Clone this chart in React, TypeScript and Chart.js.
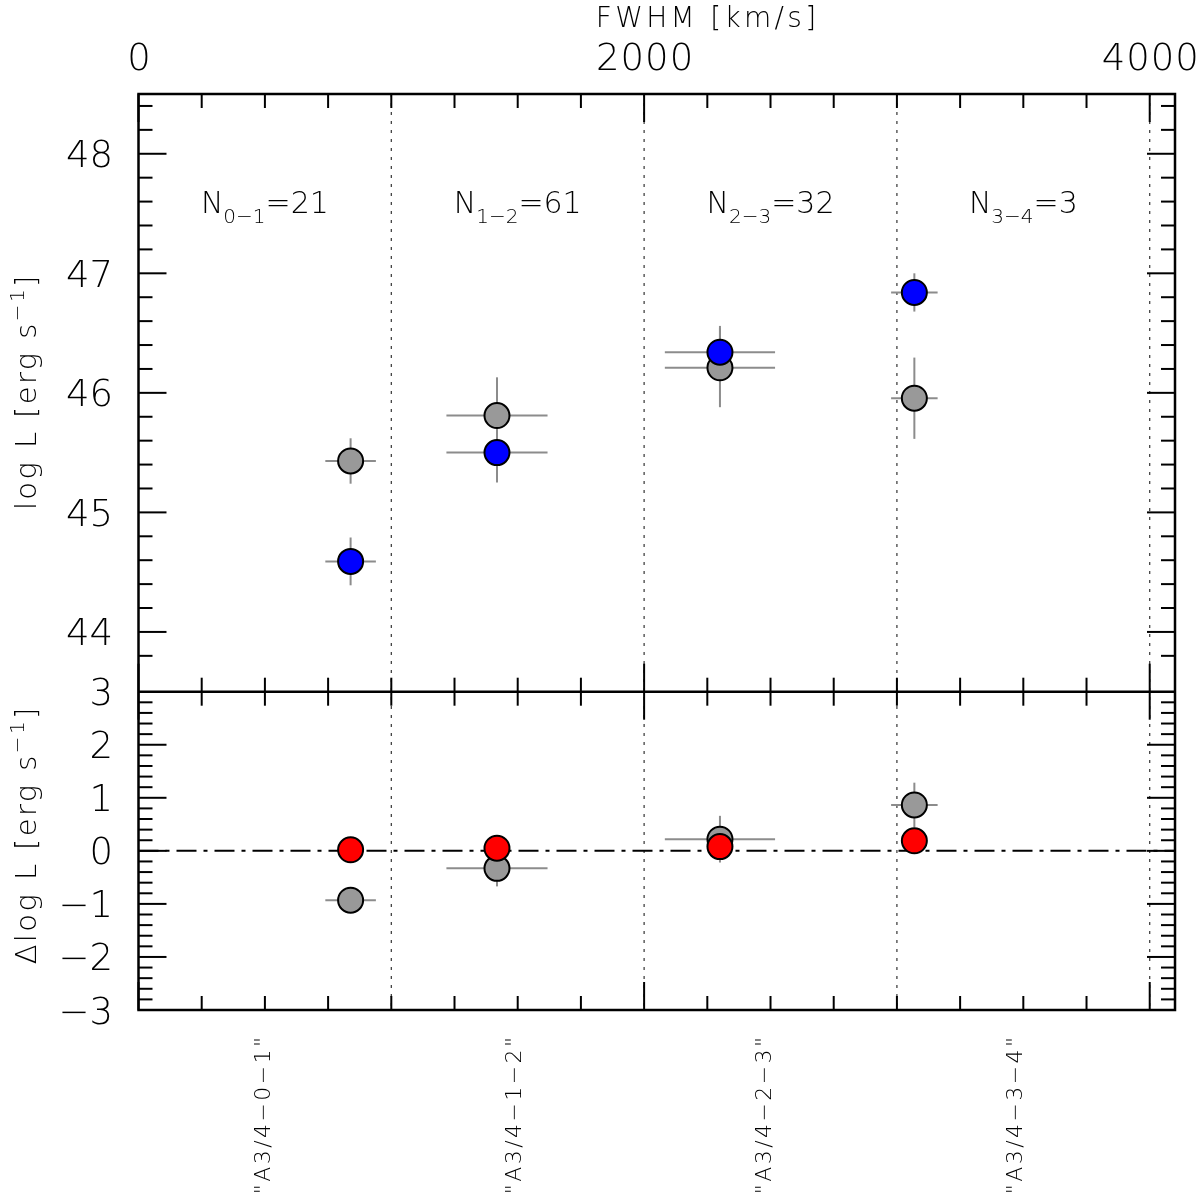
import { useEffect, useRef } from "react";
import Chart from "chart.js/auto";

// FWHM of each bin point (km/s) and its half-width
const fwhm = [839, 1418, 2300, 3069];
const fwhmErr = [100, 200, 218, 92];

// upper panel: log L
const logLGray = [45.43, 45.81, 46.21, 45.955];
const logLGrayErr = [0.19, 0.32, 0.33, 0.34];
const logLBlue = [44.59, 45.5, 46.34, 46.84];
const logLBlueErr = [0.2, 0.25, 0.22, 0.16];

// lower panel: delta log L
const dLogLGray = [-0.93, -0.33, 0.22, 0.865];
const dLogLGrayErr = [0.15, 0.34, 0.44, 0.42];
const dLogLRed = [0.02, 0.05, 0.08, 0.19];

// bins
const binEdges = [1000, 2000, 3000, 4000];
const binCentres = [500, 1500, 2500, 3500];
const binNames = ["0−1", "1−2", "2−3", "3−4"];
const binCounts = [21, 61, 32, 3];
const binLabels = ['"A3/4−0−1"', '"A3/4−1−2"', '"A3/4−2−3"', '"A3/4−3−4"'];
const binLabelPos = [490, 1480, 2470, 3465];

// tick labels
const fwhmTicks = [0, 2000, 4000];
const logLTicks = [44, 45, 46, 47, 48];
const dLogLTicks = [-3, -2, -1, 0, 1, 2, 3];

const FONT = '"DejaVu Sans", sans-serif';

type Run = { t: string; s?: "sub" | "sup" };

function drawRuns(
  ctx: CanvasRenderingContext2D,
  runs: Run[],
  x: number,
  y: number,
  size: number,
  align: "left" | "center" | "right",
  spacing = 0,
  angle = 0
) {
  const small = Math.round(size * 0.68);
  const sizes = runs.map((r) => (r.s ? small : size));
  ctx.save();
  ctx.translate(x, y);
  ctx.rotate(angle);
  (ctx as any).letterSpacing = spacing + "px";
  ctx.textBaseline = "alphabetic";
  ctx.textAlign = "left";
  ctx.fillStyle = "#000";
  const widths = runs.map((r, i) => {
    ctx.font = `300 ${sizes[i]}px ${FONT}`;
    return ctx.measureText(r.t).width;
  });
  const total = widths.reduce((a, b) => a + b, 0) - spacing;
  let cx = align === "left" ? 0 : align === "center" ? -total / 2 : -total;
  runs.forEach((r, i) => {
    ctx.font = `300 ${sizes[i]}px ${FONT}`;
    const dy = r.s === "sub" ? size * 0.34 : r.s === "sup" ? -size * 0.42 : 0;
    ctx.fillText(r.t, cx, dy);
    cx += widths[i];
  });
  ctx.restore();
}

function line(ctx: CanvasRenderingContext2D, x1: number, y1: number, x2: number, y2: number) {
  ctx.beginPath();
  ctx.moveTo(x1, y1);
  ctx.lineTo(x2, y2);
  ctx.stroke();
}

const panelPlugin = {
  id: "panels",
  beforeDatasetsDraw(chart: any) {
    const { ctx, chartArea } = chart;
    const xs = chart.scales.x;
    const yB = chart.scales.yBot;
    ctx.save();

    // bin edges
    ctx.strokeStyle = "#333";
    ctx.lineWidth = 1.2;
    ctx.setLineDash([3, 6]);
    binEdges.forEach((v) => {
      const px = xs.getPixelForValue(v);
      line(ctx, px, chartArea.top, px, chartArea.bottom);
    });

    // zero line in lower panel
    ctx.strokeStyle = "#000";
    ctx.lineWidth = 2;
    ctx.setLineDash([20, 7, 4, 7]);
    const y0 = yB.getPixelForValue(0);
    line(ctx, chartArea.left, y0, chartArea.right, y0);
    ctx.setLineDash([]);

    // error bars
    ctx.strokeStyle = "#8c8c8c";
    ctx.lineWidth = 2;
    chart.data.datasets.forEach((ds: any) => {
      const ys = chart.scales[ds.yAxisID];
      ds.data.forEach((p: any) => {
        const px = xs.getPixelForValue(p.x);
        const py = ys.getPixelForValue(p.y);
        if (p.xe) line(ctx, xs.getPixelForValue(p.x - p.xe), py, xs.getPixelForValue(p.x + p.xe), py);
        if (p.ye) line(ctx, px, ys.getPixelForValue(p.y - p.ye), px, ys.getPixelForValue(p.y + p.ye));
      });
    });
    ctx.restore();
  },
  afterDraw(chart: any) {
    const { ctx, chartArea } = chart;
    const { left, right, top, bottom } = chartArea;
    const xs = chart.scales.x;
    const yT = chart.scales.yTop;
    const yB = chart.scales.yBot;
    const mid = yT.getPixelForValue(yT.min);
    ctx.save();

    // frame
    ctx.strokeStyle = "#000";
    ctx.lineWidth = 2.5;
    ctx.strokeRect(left, top, right - left, bottom - top);
    line(ctx, left, mid, right, mid);

    // x ticks, inward on every horizontal edge
    ctx.lineWidth = 2;
    const xTicks = (yPix: number, dir: number) => {
      for (let v = 0; v <= 4000; v += 250) {
        const px = xs.getPixelForValue(v);
        const len = v % 2000 === 0 ? 28 : 14;
        line(ctx, px, yPix, px, yPix + dir * len);
      }
    };
    xTicks(top, 1);
    xTicks(mid, -1);
    xTicks(mid, 1);
    xTicks(bottom, -1);

    // y ticks on both sides
    const yTicks = (ys: any) => {
      const lo = Math.round(ys.min * 5);
      const hi = Math.round(ys.max * 5);
      for (let i = lo + 1; i < hi; i++) {
        const py = ys.getPixelForValue(i / 5);
        const len = i % 5 === 0 ? 28 : 14;
        line(ctx, left, py, left + len, py);
        line(ctx, right, py, right - len, py);
      }
    };
    yTicks(yT);
    yTicks(yB);
    ctx.restore();

    // top axis labels
    fwhmTicks.forEach((v) => {
      drawRuns(ctx, [{ t: String(v) }], xs.getPixelForValue(v) + 0.5, 70, 37, "center", 1);
    });
    drawRuns(ctx, [{ t: "FWHM [km/s]" }], 706, 27, 28, "center", 3.3);

    // y tick labels
    logLTicks.forEach((v) => {
      drawRuns(ctx, [{ t: String(v) }], 113, yT.getPixelForValue(v) + 13.5, 37, "right");
    });
    dLogLTicks.forEach((v) => {
      const s = v < 0 ? "−" + Math.abs(v) : String(v);
      drawRuns(ctx, [{ t: s }], 113, yB.getPixelForValue(v) + 13.5, 37, "right");
    });

    // y titles
    const topMid = (top + mid) / 2;
    drawRuns(
      ctx,
      [{ t: "log L [erg s" }, { t: "−1", s: "sup" }, { t: "]" }],
      36,
      topMid,
      29,
      "center",
      2.4,
      -Math.PI / 2
    );
    drawRuns(
      ctx,
      [{ t: "Δlog L [erg s" }, { t: "−1", s: "sup" }, { t: "]" }],
      36,
      836,
      29,
      "center",
      2.4,
      -Math.PI / 2
    );

    // bin counts
    binCentres.forEach((v, i) => {
      drawRuns(
        ctx,
        [{ t: "N" }, { t: binNames[i], s: "sub" }, { t: "=" + binCounts[i] }],
        xs.getPixelForValue(v),
        213,
        30,
        "center"
      );
    });

    // bin labels below the lower panel
    binLabelPos.forEach((v, i) => {
      drawRuns(ctx, [{ t: binLabels[i] }], xs.getPixelForValue(v) + 8, 1037, 22, "right", 2.4, -Math.PI / 2);
    });
  },
};

function points(ys: number[], yErr?: number[], withX = true) {
  return fwhm.map((x, i) => ({
    x,
    y: ys[i],
    xe: withX ? fwhmErr[i] : 0,
    ye: yErr ? yErr[i] : 0,
  }));
}

export default function App() {
  const canvasRef = useRef<HTMLCanvasElement>(null);
  const chartRef = useRef<Chart | null>(null);

  useEffect(() => {
    document.body.style.margin = "0";
    if (!canvasRef.current) return;
    if (chartRef.current) chartRef.current.destroy();

    const marker = {
      pointRadius: 12.5,
      pointHoverRadius: 12.5,
      pointBorderWidth: 2,
      pointBorderColor: "#000",
      borderColor: "#000",
    };

    chartRef.current = new Chart(canvasRef.current, {
      type: "scatter",
      data: {
        datasets: [
          {
            label: "blue",
            data: points(logLBlue, logLBlueErr),
            yAxisID: "yTop",
            backgroundColor: "#0000ff",
            pointBackgroundColor: "#0000ff",
            order: 0,
            ...marker,
          },
          {
            label: "red",
            data: points(dLogLRed, undefined, false),
            yAxisID: "yBot",
            backgroundColor: "#ff0000",
            pointBackgroundColor: "#ff0000",
            order: 0,
            ...marker,
          },
          {
            label: "gray top",
            data: points(logLGray, logLGrayErr),
            yAxisID: "yTop",
            backgroundColor: "#999999",
            pointBackgroundColor: "#999999",
            order: 1,
            ...marker,
          },
          {
            label: "gray bottom",
            data: points(dLogLGray, dLogLGrayErr),
            yAxisID: "yBot",
            backgroundColor: "#999999",
            pointBackgroundColor: "#999999",
            order: 1,
            ...marker,
          },
        ] as any,
      },
      options: {
        responsive: false,
        animation: false,
        events: [],
        layout: { padding: { left: 138.5, right: 25, top: 94, bottom: 184 } },
        plugins: {
          legend: { display: false },
          tooltip: { enabled: false },
        },
        scales: {
          x: { type: "linear", min: 0, max: 4100, display: false },
          yTop: {
            type: "linear",
            position: "left",
            min: 43.5,
            max: 48.5,
            display: false,
            stack: "panels",
            stackWeight: 597.7,
            weight: 2,
          },
          yBot: {
            type: "linear",
            position: "left",
            min: -3,
            max: 3,
            display: false,
            stack: "panels",
            stackWeight: 318.3,
            weight: 1,
          },
        } as any,
      },
      plugins: [panelPlugin],
    });

    return () => {
      if (chartRef.current) {
        chartRef.current.destroy();
        chartRef.current = null;
      }
    };
  }, []);

  return (
    <div style={{ width: 1200, height: 1194, background: "#fff" }}>
      <canvas ref={canvasRef} width={1200} height={1194} style={{ display: "block" }}></canvas>
    </div>
  );
}
